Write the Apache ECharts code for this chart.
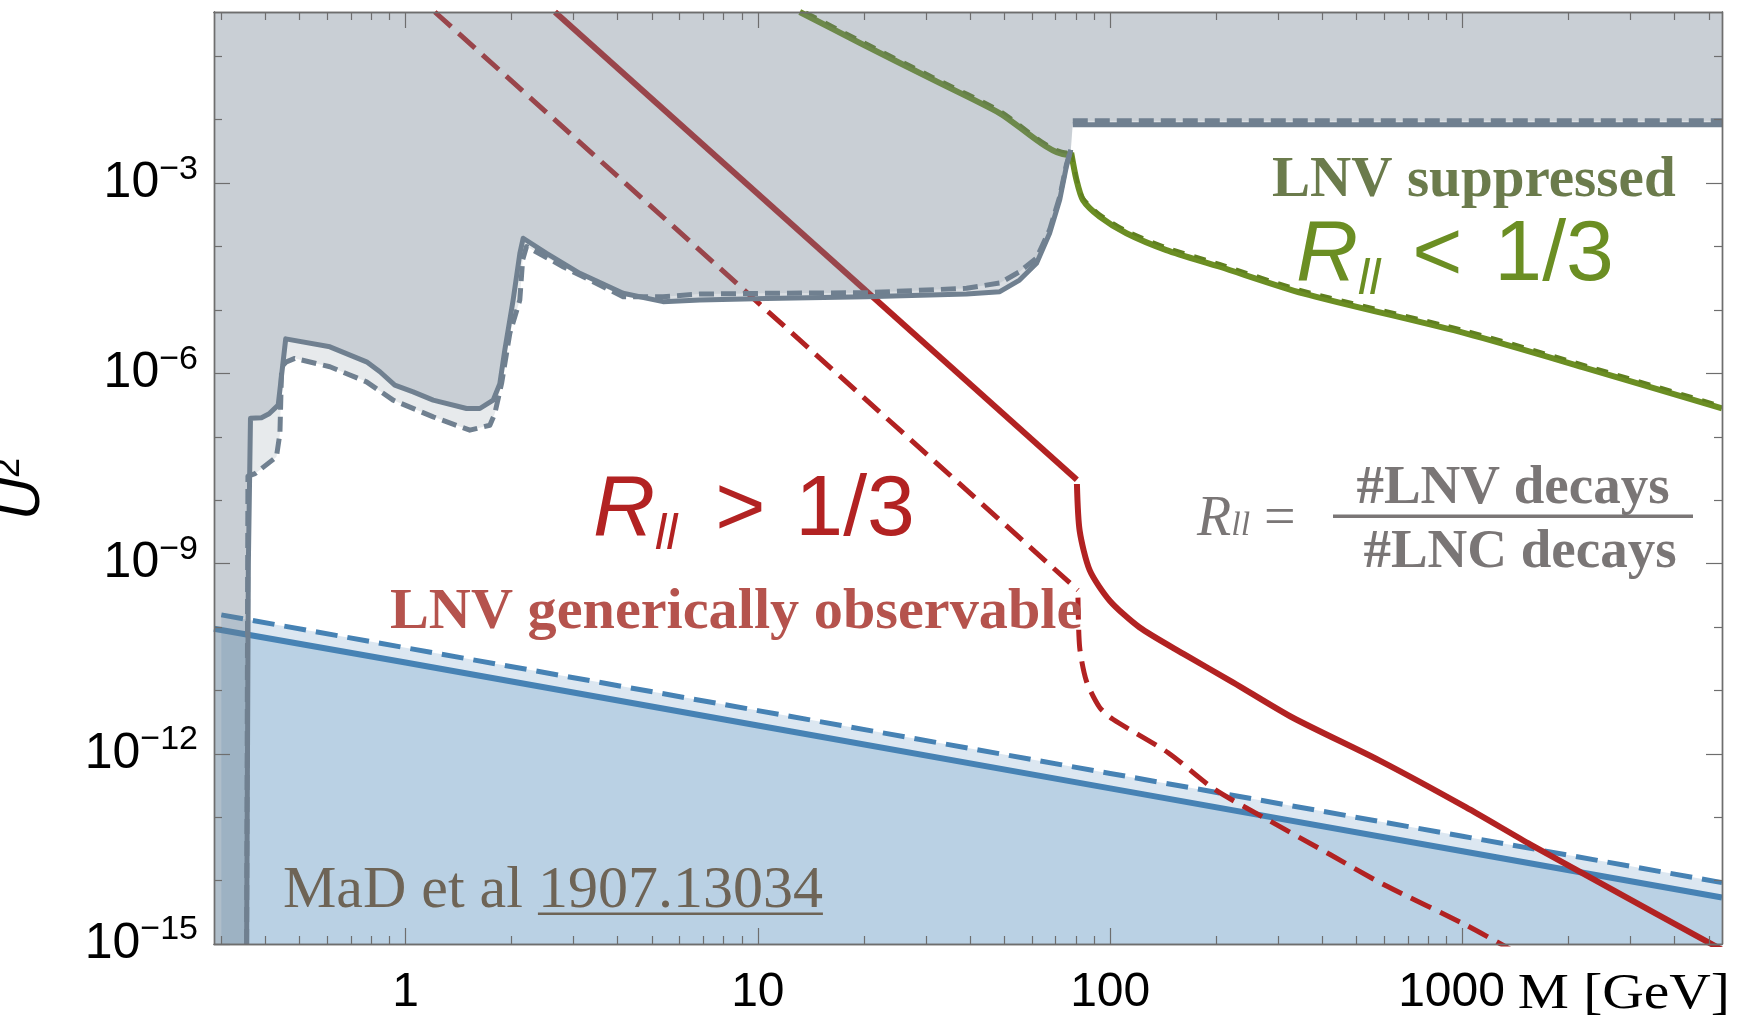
<!DOCTYPE html>
<html>
<head>
<meta charset="utf-8">
<script src="https://cdn.jsdelivr.net/npm/echarts@6.0.0/dist/echarts.min.js"></script>
<style>
  html, body { margin: 0; padding: 0; background: #ffffff; }
  #chart { width: 1738px; height: 1021px; }
</style>
</head>
<body>
<div id="chart"></div>
<script>
// ---- axis ranges and ticks ----
const massRange = [0.286, 5450];          // M [GeV]
const couplingRange = [1e-15, 0.5];       // U^2
const massMajorTicks = [1, 10, 100, 1000];
const massMinorTicks = [0.3, 0.4, 0.5, 0.6, 0.7, 0.8, 0.9,
  2, 3, 4, 5, 6, 7, 8, 9, 20, 30, 40, 50, 60, 70, 80, 90,
  200, 300, 400, 500, 600, 700, 800, 900, 2000, 3000, 4000, 5000];
const couplingMajorTicks = [1e-15, 1e-12, 1e-9, 1e-6, 1e-3];
const couplingMinorTicks = [1e-14, 1e-13, 1e-11, 1e-10, 1e-8, 1e-7, 1e-5, 1e-4, 1e-2, 1e-1];

// ---- excluded region (grey): boundary below and above the W mass ----
const greySolidBelowW = [
  [0.354, 1e-15], [0.358, 1e-9], [0.363, 1.95e-7], [0.39, 2.0e-7], [0.41, 2.3e-7],
  [0.435, 3.15e-7], [0.457, 3.5e-6], [0.461, 3.7e-6], [0.61, 2.62e-6], [0.775, 1.52e-6],
  [0.846, 1.06e-6], [0.932, 6.5e-7], [1.051, 5.1e-7], [1.198, 3.78e-7], [1.49, 2.79e-7],
  [1.625, 2.79e-7], [1.773, 3.78e-7], [1.852, 6.9e-7], [1.913, 2.32e-6], [2.02, 1.43e-5],
  [2.111, 7.8e-5], [2.157, 1.35e-4], [2.513, 7.8e-5], [3.123, 3.78e-5], [4.145, 1.83e-5],
  [5.38, 1.35e-5], [6.84, 1.43e-5], [10.58, 1.52e-5], [20.3, 1.62e-5], [39.1, 1.78e-5],
  [48.6, 1.94e-5], [55.3, 2.96e-5], [61.8, 5.44e-5], [67.3, 1.62e-4], [71.9, 5.45e-4],
  [75.1, 1.83e-3], [77.3, 3.36e-3]
];
const greySolidAboveW = [[78.3, 8.3e-3], [5450, 8.3e-3]];
const greyDashedBelowW = [
  [0.354, 1e-15], [0.357, 2.4e-8], [0.374, 2.62e-8], [0.43, 4.8e-8], [0.44, 1.12e-7],
  [0.445, 1.27e-6], [0.459, 1.52e-6], [0.485, 1.72e-6], [0.61, 1.27e-6], [0.775, 7.35e-7],
  [0.922, 3.78e-7], [1.198, 2.06e-7], [1.522, 1.27e-7], [1.735, 1.52e-7], [1.792, 2.32e-7],
  [1.873, 6.9e-7], [1.977, 4.27e-6], [2.11, 1.43e-5], [2.15, 6.2e-5], [2.205, 1.0e-4],
  [2.8, 4.8e-5], [4.145, 1.62e-5], [5.38, 1.62e-5], [6.84, 1.78e-5], [10.58, 1.83e-5],
  [20.3, 1.87e-5], [39.1, 2.2e-5], [48.6, 2.66e-5], [55.3, 4.0e-5], [61.8, 6.6e-5],
  [67.3, 1.83e-4], [71.9, 6.1e-4], [75.1, 1.95e-3], [77.3, 3.36e-3]
];
const greyDashedAboveW = [[78.3, 9.6e-3], [5450, 9.6e-3]];

// ---- lower bound (blue) ----
const blueSolid = [[0.286, 9.4e-11], [1, 2.75e-11], [10, 2.8e-12], [100, 2.85e-13], [1000, 2.9e-14], [5450, 5.4e-15]];
const blueDashed = [[0.3, 1.55e-10], [1, 4.7e-11], [10, 4.8e-12], [100, 4.9e-13], [1000, 5.0e-14], [5450, 9.3e-15]];

// ---- R_ll = 1/3 contours (red) ----
const redSolidBelowW = [[2.655, 0.5], [80.4, 2.1e-8]];
const redSolidAboveW = [[80.45, 1.8e-8], [81.9, 3.3e-9], [87.5, 7.8e-10], [99.7, 2.6e-10], [121, 9.9e-11],
  [161, 3.8e-11], [223, 1.34e-11], [330, 3.7e-12], [582, 7.8e-13], [1021, 1.44e-13],
  [1560, 3.7e-14], [2449, 9.3e-15], [5450, 8.1e-16]];
const redDashedBelowW = [[1.211, 0.5], [81.0, 3.8e-10]];
const redDashedAboveW = [[81.0, 2.9e-10], [81.9, 4.8e-11], [85.6, 1.4e-11], [93.3, 5.4e-12],
  [101.8, 3.5e-12], [146, 1.04e-12], [196.8, 2.8e-13], [270.8, 1.01e-13], [419.6, 2.6e-14],
  [601, 8.5e-15], [1021, 2.0e-15], [1415, 7.4e-16]];

// ---- R_ll suppressed contours (green) ----
const greenSolidBelowW = [[13.15, 0.5], [19.45, 0.163], [31.4, 0.0429], [48.5, 0.01276], [75.1, 2.8e-3], [77.5, 3.0e-3]];
const greenSolidAboveW = [[77.5, 3.0e-3], [80.2, 1.13e-3], [83.7, 5.4e-4], [93.3, 2.97e-4], [111.2, 1.62e-4],
  [144.3, 8.8e-5], [204.6, 4.8e-5], [352.4, 1.83e-5], [1021, 4.27e-6], [2265, 1.19e-6], [5450, 2.79e-7]];
const greenDashedBelowW = [[13.7, 0.5], [19.45, 0.183], [31.4, 0.048], [48.5, 0.0143], [75.1, 3.1e-3], [77.5, 3.3e-3]];
const greenDashedAboveW = [[77.5, 3.3e-3], [80.2, 1.26e-3], [83.7, 6.0e-4], [93.3, 3.3e-4], [111.2, 1.81e-4],
  [144.3, 9.9e-5], [204.6, 5.4e-5], [352.4, 2.05e-5], [1021, 4.8e-6], [2265, 1.33e-6], [5450, 3.1e-7]];

// ---- colours ----
const greyLine = '#708090', blueLine = '#4682b4', redLine = '#b22222', greenLine = '#6b8e23';
const frameColor = '#6e6e6e';
const sans = '"Liberation Sans", Arial, sans-serif';
const serif = '"Liberation Serif", "Times New Roman", serif';

const chart = echarts.init(document.getElementById('chart'), null, { renderer: 'canvas' });

function massAxis(position, ticks, tickLen, withLabels) {
  return {
    type: 'log', logBase: 10, min: massRange[0], max: massRange[1], position, z: 10,
    axisLine: { show: true, onZero: false, lineStyle: { color: frameColor, width: 1.4 } },
    axisTick: { show: true, inside: true, length: tickLen, customValues: ticks, lineStyle: { color: frameColor, width: 1.2 } },
    axisLabel: withLabels ? {
      show: true, customValues: massMajorTicks, margin: 25, color: '#000',
      // the last label leaves room for the axis title on its right
      formatter: v => (Math.round(v) === 1000 ? '{r|1000}' : '{n|' + Math.round(v) + '}'),
      rich: {
        n: { fontFamily: sans, fontSize: 48, color: '#000' },
        r: { fontFamily: sans, fontSize: 48, color: '#000', padding: [0, 22, 0, 0] }
      }
    } : { show: false },
    splitLine: { show: false }, minorTick: { show: false }, minorSplitLine: { show: false }
  };
}
function couplingAxis(position, ticks, tickLen, withLabels) {
  return {
    type: 'log', logBase: 10, min: couplingRange[0], max: couplingRange[1], position, z: 10,
    axisLine: { show: true, onZero: false, lineStyle: { color: frameColor, width: 1.4 } },
    axisTick: { show: true, inside: true, length: tickLen, customValues: ticks, lineStyle: { color: frameColor, width: 1.2 } },
    axisLabel: withLabels ? {
      show: true, customValues: couplingMajorTicks, margin: 16, color: '#000',
      formatter: v => '{b|10}{s|\u2212' + Math.abs(Math.round(Math.log10(v))) + '}',
      rich: {
        b: { fontFamily: sans, fontSize: 50, lineHeight: 62, color: '#000' },
        s: { fontFamily: sans, fontSize: 34, lineHeight: 28, verticalAlign: 'top', color: '#000' }
      }
    } : { show: false },
    splitLine: { show: false }, minorTick: { show: false }, minorSplitLine: { show: false }
  };
}

const xAxes = [
  massAxis('bottom', massMajorTicks, 16, true),
  massAxis('bottom', massMinorTicks, 8, false),
  massAxis('top', massMajorTicks, 16, false),
  massAxis('top', massMinorTicks, 8, false)
];
const yAxes = [
  Object.assign(couplingAxis('left', couplingMajorTicks, 16, true), {
    name: '{u|U}{s|2}', nameLocation: 'middle', nameRotate: 90, nameGap: 159,
    nameTextStyle: {
      padding: [0, 22, 0, 0],
      rich: {
        u: { fontFamily: sans, fontStyle: 'italic', fontSize: 58, lineHeight: 64, color: '#000' },
        s: { fontFamily: sans, fontSize: 36, lineHeight: 36, verticalAlign: 'top', color: '#000' }
      }
    }
  }),
  couplingAxis('left', couplingMinorTicks, 8, false),
  couplingAxis('right', couplingMajorTicks, 16, false),
  couplingAxis('right', couplingMinorTicks, 8, false)
];

function lineSeries(name, data, color, width, dash, z, extra) {
  return Object.assign({
    type: 'line', name, data, xAxisIndex: 0, yAxisIndex: 0, z,
    showSymbol: false, symbol: 'none', silent: true, clip: true, animation: false,
    lineStyle: { color, width, type: dash || 'solid', cap: 'butt', join: 'round' }
  }, extra || {});
}
function fillSeries(name, data, color, origin, z) {
  return {
    type: 'line', name, data, xAxisIndex: 0, yAxisIndex: 0, z,
    showSymbol: false, symbol: 'none', silent: true, clip: true, animation: false,
    lineStyle: { width: 0, opacity: 0 },
    areaStyle: { color, opacity: 1, origin }
  };
}

const greyFillSolid = [[massRange[0], couplingRange[0]]].concat(greySolidBelowW, greySolidAboveW);
const greyFillDashed = [[massRange[0], couplingRange[0]]].concat(greyDashedBelowW, greyDashedAboveW);
const smoothCurve = { smooth: 0.25 };

const series = [
  // lower bound, filled below
  fillSeries('blue dashed fill', blueDashed, 'rgba(70,130,180,0.19)', 'start', 1),
  fillSeries('blue solid fill', blueSolid, 'rgba(70,130,180,0.22)', 'start', 1),
  lineSeries('blue dashed', blueDashed, blueLine, 5, [22, 10], 2),
  lineSeries('blue solid', blueSolid, blueLine, 6, 'solid', 2),
  // R_ll contours
  lineSeries('red dashed low', redDashedBelowW, redLine, 5, [22, 10], 3),
  lineSeries('red dashed high', redDashedAboveW, redLine, 5, [22, 10], 3, smoothCurve),
  lineSeries('red solid low', redSolidBelowW, redLine, 6, 'solid', 3),
  lineSeries('red solid high', redSolidAboveW, redLine, 6, 'solid', 3, smoothCurve),
  lineSeries('green solid low', greenSolidBelowW, greenLine, 6, 'solid', 3, smoothCurve),
  lineSeries('green solid high', greenSolidAboveW, greenLine, 6, 'solid', 3, smoothCurve),
  lineSeries('green dashed low', greenDashedBelowW, '#5f7f1f', 3, [12, 10], 3, smoothCurve),
  lineSeries('green dashed high', greenDashedAboveW, '#5f7f1f', 3, [12, 10], 3, smoothCurve),
  // excluded region, filled above
  fillSeries('grey dashed fill', greyFillDashed, 'rgba(112,128,144,0.17)', 'end', 4),
  fillSeries('grey solid fill', greyFillSolid, 'rgba(112,128,144,0.25)', 'end', 4),
  lineSeries('grey dashed low', greyDashedBelowW, greyLine, 5, [15, 7], 5),
  lineSeries('grey dashed high', greyDashedAboveW, greyLine, 5, [15, 7], 5),
  lineSeries('grey solid low', greySolidBelowW, greyLine, 5, 'solid', 5),
  lineSeries('grey solid high', greySolidAboveW, greyLine, 5, 'solid', 5)
];

// ---- annotation text, laid out piece by piece on a baseline ----
const mctx = document.createElement('canvas').getContext('2d');
function fontOf(p) { return (p.italic ? 'italic ' : '') + (p.bold ? 'bold ' : '') + p.size + 'px ' + p.family; }
function measure(text, font) {
  mctx.font = font; mctx.textBaseline = 'middle';
  const m = mctx.measureText(text);
  const drop = (typeof m.alphabeticBaseline === 'number' && m.alphabeticBaseline !== 0) ? -m.alphabeticBaseline : 0;
  return { w: m.width, drop };
}
// parts: text pieces sharing one baseline; sx stretches a piece horizontally, dx adds space before it
function textRun(x, baseline, parts, align) {
  let total = 0;
  parts.forEach(p => {
    p.font = fontOf(p); p.sx = p.sx || 1;
    const mm = measure(p.text, p.font);
    p.w = mm.w * p.sx; p.drop = mm.drop || 0.33 * p.size;
    total += p.w + (p.dx || 0);
  });
  let cx = align === 'center' ? x - total / 2 : (align === 'right' ? x - total : x);
  const els = [];
  parts.forEach(p => {
    cx += (p.dx || 0);
    els.push({
      type: 'text', x: cx, y: baseline + (p.dy || 0) - p.drop, scaleX: p.sx, z: 50, silent: true,
      style: { text: p.text, font: p.font, fill: p.color, align: 'left', verticalAlign: 'middle', textAlign: 'left', textVerticalAlign: 'middle' }
    });
    p.x0 = cx; cx += p.w;
  });
  return els;
}

const graphics = [];
// axis title next to the last mass label
graphics.push(...textRun(1730, 1008, [{ text: 'M [GeV]', size: 50, family: serif, color: '#000', sx: 1.15 }], 'right'));
// R_ll > 1/3
graphics.push(...textRun(593, 535, [
  { text: 'R', italic: true, size: 86, family: sans, color: redLine },
  { text: 'll', italic: true, size: 50, family: sans, color: redLine, dy: 14 },
  { text: ' >', size: 86, family: sans, color: redLine, dx: 14 },
  { text: ' 1/3', size: 86, family: sans, color: redLine, dx: 6 }
]));
// R_ll < 1/3
graphics.push(...textRun(1296, 280, [
  { text: 'R', italic: true, size: 86, family: sans, color: greenLine },
  { text: 'll', italic: true, size: 50, family: sans, color: greenLine, dy: 14 },
  { text: ' <', size: 86, family: sans, color: greenLine, dx: 8 },
  { text: ' 1/3', size: 86, family: sans, color: greenLine, dx: 8 }
]));
graphics.push(...textRun(390, 628, [{ text: 'LNV generically observable', bold: true, size: 56, family: serif, color: '#b5534d', sx: 1.04 }]));
graphics.push(...textRun(1272, 196, [{ text: 'LNV suppressed', bold: true, size: 56, family: serif, color: '#6b7b4c', sx: 1.02 }]));
// reference line with underlined arXiv number
const refParts = [
  { text: 'MaD et al ', size: 60, family: serif, color: '#6e6456' },
  { text: '1907.13034', size: 60, family: serif, color: '#6e6456' }
];
graphics.push(...textRun(283, 907, refParts));
graphics.push({ type: 'rect', z: 50, silent: true, shape: { x: refParts[1].x0, y: 912.5, width: refParts[1].w, height: 2.6 }, style: { fill: '#6e6456' } });
// definition of R_ll
const fracColor = '#7a7676';
graphics.push(...textRun(1197, 535, [
  { text: 'R', italic: true, size: 56, family: serif, color: fracColor },
  { text: 'll', italic: true, size: 34, family: serif, color: fracColor },
  { text: ' =', size: 56, family: serif, color: fracColor }
]));
graphics.push({ type: 'rect', z: 50, silent: true, shape: { x: 1333, y: 514.5, width: 360, height: 3.6 }, style: { fill: fracColor } });
graphics.push(...textRun(1513, 503, [{ text: '#LNV decays', bold: true, size: 55, family: serif, color: fracColor }], 'center'));
graphics.push(...textRun(1520, 567, [{ text: '#LNC decays', bold: true, size: 55, family: serif, color: fracColor }], 'center'));

chart.setOption({
  backgroundColor: '#ffffff',
  animation: false,
  grid: { left: 214, right: 16, top: 12, bottom: 77, containLabel: false, outerBoundsMode: 'none' },
  xAxis: xAxes,
  yAxis: yAxes,
  series,
  graphic: graphics
});
</script>
</body>
</html>
